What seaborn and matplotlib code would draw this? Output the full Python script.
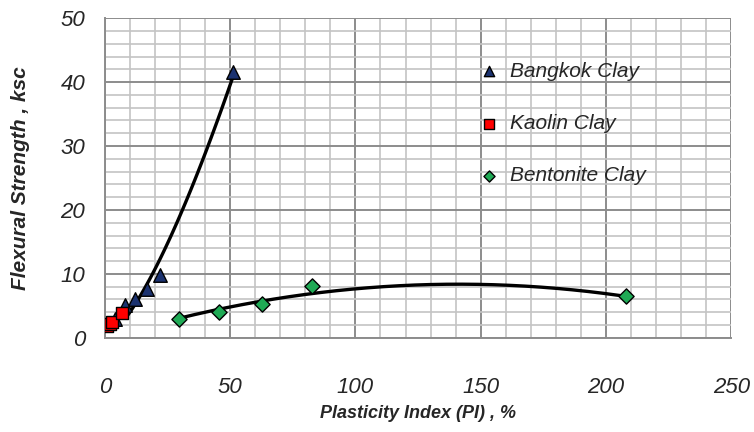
import numpy as np
import pandas as pd
import seaborn as sns
import matplotlib.pyplot as plt
from matplotlib.ticker import MultipleLocator

# values
bangkok_pi = [4, 8, 12, 17, 22, 51]
bangkok_fs = [3.0, 5.2, 6.1, 7.6, 9.9, 41.5]
kaolin_pi = [1, 2, 3, 7]
kaolin_fs = [1.8, 2.1, 2.5, 3.9]
bentonite_pi = [29.6, 45.5, 62.7, 82.7, 208]
bentonite_fs = [3.0, 4.0, 5.3, 8.1, 6.6]

# points
bangkok_trend_pi = [8.7, 16, 24.6, 51]
bangkok_trend_fs = [3.3, 8.0, 13.75, 41.5]
bentonite_trend_pi = [29.6, 58, 106, 140, 208]
bentonite_trend_fs = [3.0, 5.5, 7.9, 8.3, 6.5]

x_ticks = [0, 50, 100, 150, 200, 250]
y_ticks = [0, 10, 20, 30, 40, 50]

sns.set_style('white')
plt.rcParams['font.family'] = ['Liberation Sans', 'DejaVu Sans']

fig, ax = plt.subplots(figsize=(7.54, 4.32), dpi=100)
fig.subplots_adjust(left=0.139, right=0.970, top=0.958, bottom=0.218)

# trend lines: power curve for Bangkok, 2nd order poly for Bentonite
c, ln_a = np.polyfit(np.log(bangkok_trend_pi), np.log(bangkok_trend_fs), 1)
xb = np.linspace(min(bangkok_trend_pi), max(bangkok_trend_pi), 100)
trend_b = pd.DataFrame({'PI': xb, 'FS': np.exp(ln_a) * xb ** c})
coef = np.polyfit(bentonite_trend_pi, bentonite_trend_fs, 2)
xt = np.linspace(min(bentonite_trend_pi), max(bentonite_trend_pi), 200)
trend_t = pd.DataFrame({'PI': xt, 'FS': np.polyval(coef, xt)})
sns.lineplot(data=trend_b, x='PI', y='FS', color='black', lw=2.4, ax=ax, zorder=3)
sns.lineplot(data=trend_t, x='PI', y='FS', color='black', lw=2.4, ax=ax, zorder=3)

series = [
    ('Bangkok Clay', bangkok_pi, bangkok_fs, '^', '#1b3270', 95, 55),
    ('Kaolin Clay', kaolin_pi, kaolin_fs, 's', '#ff0000', 85, 50),
    ('Bentonite Clay', bentonite_pi, bentonite_fs, 'D', '#1faa55', 60, 32),
]
for name, xs, ys, mk, col, size, _ in series:
    sns.scatterplot(x=xs, y=ys, marker=mk, color=col, s=size, edgecolor='black',
                    linewidth=1, label=name, ax=ax, zorder=4)

ax.set_xlim(0, 250)
ax.set_ylim(0, 50)
ax.set_xticks(x_ticks)
ax.set_yticks(y_ticks)
ax.xaxis.set_minor_locator(MultipleLocator(10))
ax.yaxis.set_minor_locator(MultipleLocator(2))
ax.grid(which='minor', color='#c4c4c4', lw=1.2, zorder=0)
ax.grid(which='major', color='#8c8c8c', lw=1.4, zorder=1)
ax.set_axisbelow(True)

for s in ['top', 'right']:
    ax.spines[s].set_visible(False)
for s in ['left', 'bottom']:
    ax.spines[s].set_color('#8c8c8c')
    ax.spines[s].set_linewidth(1.4)

ax.tick_params(which='major', direction='out', length=6, width=1.2, color='#8c8c8c')
ax.tick_params(which='minor', length=0)
ax.tick_params(axis='x', pad=22)
ax.tick_params(axis='y', pad=8)
for lab in ax.get_xticklabels() + ax.get_yticklabels():
    lab.set_fontsize(16)
    lab.set_fontstyle('italic')

ax.set_xlabel('Plasticity Index (PI) , %', fontsize=13, fontweight='bold',
              fontstyle='italic', labelpad=5)
ax.set_ylabel('Flexural Strength , ksc', fontsize=15, fontweight='bold',
              fontstyle='italic', labelpad=22)

leg = ax.legend(loc='upper left', bbox_to_anchor=(0.567, 0.89), frameon=False,
                labelspacing=1.6, handletextpad=0.0, borderaxespad=0,
                prop={'size': 15, 'style': 'italic'})
for h, sz in zip(leg.legend_handles, [s[6] for s in series]):
    h.set_sizes([sz])

fig.savefig('out.png', dpi=100)
